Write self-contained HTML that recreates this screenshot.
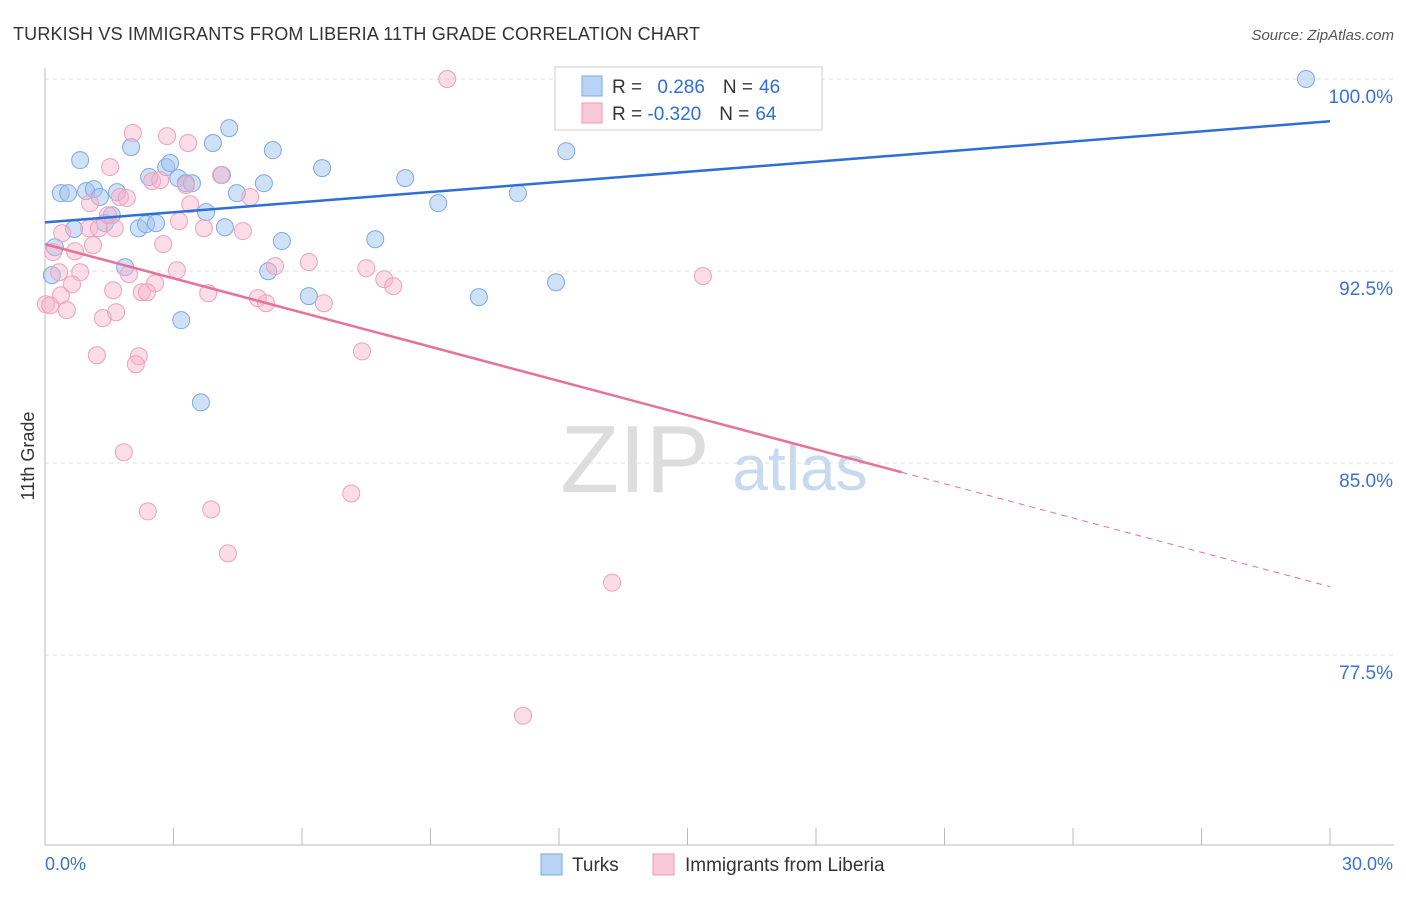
<!DOCTYPE html>
<html><head><meta charset="utf-8"><style>
body{margin:0;background:#fff;font-family:"Liberation Sans",sans-serif}
svg text{font-family:"Liberation Sans",sans-serif}
</style></head><body>
<svg id="c" width="1406" height="892" xmlns="http://www.w3.org/2000/svg">
<text x="13" y="40" font-size="18" fill="#333" textLength="687">TURKISH VS IMMIGRANTS FROM LIBERIA 11TH GRADE CORRELATION CHART</text>
<text x="1394" y="40" font-size="15" fill="#555" font-style="italic" text-anchor="end">Source: ZipAtlas.com</text>
<text x="34" y="456" font-size="18" fill="#333" transform="rotate(-90 34 456)" text-anchor="middle">11th Grade</text>
<text x="635" y="492" font-size="96" fill="#ddd" font-family="Liberation Serif" text-anchor="middle">ZIP</text>
<text x="800" y="490" font-size="64" fill="#c8daf0" text-anchor="middle">atlas</text>
<g id="grid"></g><g id="axes"></g><g id="pts"></g><g id="lines"></g>
<g>
<rect x="555" y="67" width="267" height="63" fill="#fff" stroke="#ccc"/>
<rect x="582" y="76" width="20" height="20" fill="#b9d3f5" stroke="#7aa9e6"/>
<rect x="582" y="103" width="20" height="20" fill="#f9c8d8" stroke="#ee9ab6"/>
<text x="612" y="93" font-size="19" fill="#333">R = <tspan fill="#2d6fd6" dx="10">0.286</tspan><tspan dx="18">N =</tspan><tspan fill="#2d6fd6" dx="6">46</tspan></text>
<text x="612" y="120" font-size="19" fill="#333">R = <tspan fill="#2d6fd6">-0.320</tspan><tspan dx="18">N =</tspan><tspan fill="#2d6fd6" dx="6">64</tspan></text>
</g>
<g>
<rect x="541" y="854" width="21" height="21" fill="#b9d3f5" stroke="#7aa9e6"/>
<text x="572" y="871" font-size="19" fill="#333">Turks</text>
<rect x="653" y="854" width="21" height="21" fill="#f9c8d8" stroke="#ee9ab6"/>
<text x="685" y="871" font-size="19" fill="#333">Immigrants from Liberia</text>
</g>
</svg>
<script>
const yTicks=[100,92.5,85,77.5];
const yTickLabels=["100.0%","92.5%","85.0%","77.5%"];
const xTickCount=10;
const xMin=0,xMax=30,yMin=70.08,yMax=100;
const blueX=[0.82,0.37,0.54,0.96,1.14,1.28,1.68,1.56,1.40,0.68,0.23,2.01,2.43,2.19,2.36,2.59,2.83,2.92,3.11,3.29,3.43,3.76,3.92,4.30,4.13,4.48,4.20,5.11,5.32,5.53,5.21,1.87,3.18,3.64,6.16,6.47,7.71,8.41,9.18,10.13,11.04,11.93,12.17,12.31,29.44,0.16];
const blueY=[96.83,95.54,95.54,95.62,95.70,95.39,95.58,94.68,94.37,94.14,93.43,97.34,96.17,94.17,94.33,94.37,96.56,96.72,96.13,95.93,95.93,94.80,97.50,98.08,96.25,95.54,94.21,95.93,97.22,93.67,92.49,92.65,90.58,87.37,91.52,96.52,93.74,96.13,95.15,91.48,95.54,92.06,97.18,100,100,92.34];
const pinkX=[9.39,2.05,2.85,3.34,1.52,4.11,2.50,2.69,3.29,1.75,1.91,1.05,3.39,4.79,1.47,3.13,1.03,1.26,1.63,0.40,3.71,4.62,0.70,1.12,2.76,0.19,0.82,0.33,1.96,3.08,5.37,6.16,7.50,7.92,8.13,0.63,2.57,1.59,2.26,2.38,3.81,4.97,5.16,6.51,0.37,0.02,0.51,1.35,1.66,1.21,2.19,2.12,7.40,1.84,7.15,2.40,3.88,4.27,13.24,11.16,15.36,0.12];
const pinkY=[100,97.89,97.77,97.50,96.56,96.25,96.01,96.05,95.86,95.39,95.35,95.15,95.11,95.39,94.68,94.45,94.17,94.17,94.17,93.98,94.17,94.06,93.27,93.51,93.55,93.24,92.45,92.45,92.38,92.53,92.69,92.85,92.61,92.18,91.91,91.98,92.02,91.75,91.67,91.67,91.63,91.44,91.24,91.24,91.55,91.20,90.97,90.66,90.89,89.21,89.17,88.86,89.36,85.42,83.81,83.11,83.19,81.47,80.33,75.13,92.30,91.16];
const blueTrend=[94.4,98.35];
const pinkTrend=[93.55,84.64,80.17];
const pinkSolidEnd=20;
const L=45,R=1330,T=79,B=845;
const sx=v=>L+(v-xMin)/(xMax-xMin)*(R-L);
const sy=v=>B-(v-yMin)/(yMax-yMin)*(B-T);
const NS="http://www.w3.org/2000/svg";
function mk(tag,attrs,parent){const e=document.createElementNS(NS,tag);for(const k in attrs)e.setAttribute(k,attrs[k]);document.getElementById(parent).appendChild(e);return e;}
yTicks.forEach((t,i)=>{
 const g=mk('line',{x1:L,x2:1394,y1:sy(t),y2:sy(t),stroke:'#ddd','stroke-dasharray':'4,4'},'grid');
 
 
 const tx=mk('text',{x:1393,y:sy(t)+24,'font-size':19,fill:'#3a72d0','text-anchor':'end'},'grid');
 tx.textContent=yTickLabels[i];
 
 
});
const ax=mk('line',{x1:L,x2:L,y1:68,y2:B,stroke:'#bbb'},'axes');


const bx=mk('line',{x1:L,x2:1394,y1:B,y2:B,stroke:'#bbb'},'axes');


for(let i=0;i<=xTickCount;i++){
 const v=xMin+(xMax-xMin)*i/xTickCount;
 const t=mk('line',{x1:sx(v),x2:sx(v),y1:828,y2:B,stroke:'#bbb'},'axes');
 
 
}
[[xMin,'0.0%','start',45],[xMax,'30.0%','end',1393]].forEach(a=>{
 const t=mk('text',{x:a[3],y:870,'font-size':18,fill:'#3a72d0','text-anchor':a[2]},'axes');
 t.textContent=a[1];
 
 
});
blueX.forEach((x,i)=>{
 const c=mk('circle',{cx:sx(x),cy:sy(blueY[i]),r:8.5,fill:'rgba(160,195,240,0.5)',stroke:'#7ea9e4','stroke-width':1},'pts');
 
 
});
pinkX.forEach((x,i)=>{
 const c=mk('circle',{cx:sx(x),cy:sy(pinkY[i]),r:8.5,fill:'rgba(246,180,202,0.45)',stroke:'#f0a0bc','stroke-width':1},'pts');
 
 
});
const bl=mk('line',{x1:sx(xMin),y1:sy(blueTrend[0]),x2:sx(xMax),y2:sy(blueTrend[1]),stroke:'#2d6fd6','stroke-width':2.5},'lines');


const pl=mk('line',{x1:sx(xMin),y1:sy(pinkTrend[0]),x2:sx(pinkSolidEnd),y2:sy(pinkTrend[1]),stroke:'#e8719a','stroke-width':2.5},'lines');


const pd=mk('line',{x1:sx(pinkSolidEnd),y1:sy(pinkTrend[1]),x2:sx(xMax),y2:sy(pinkTrend[2]),stroke:'#e8719a','stroke-width':1,'stroke-dasharray':'6,5'},'lines');


</script>
</body></html>
